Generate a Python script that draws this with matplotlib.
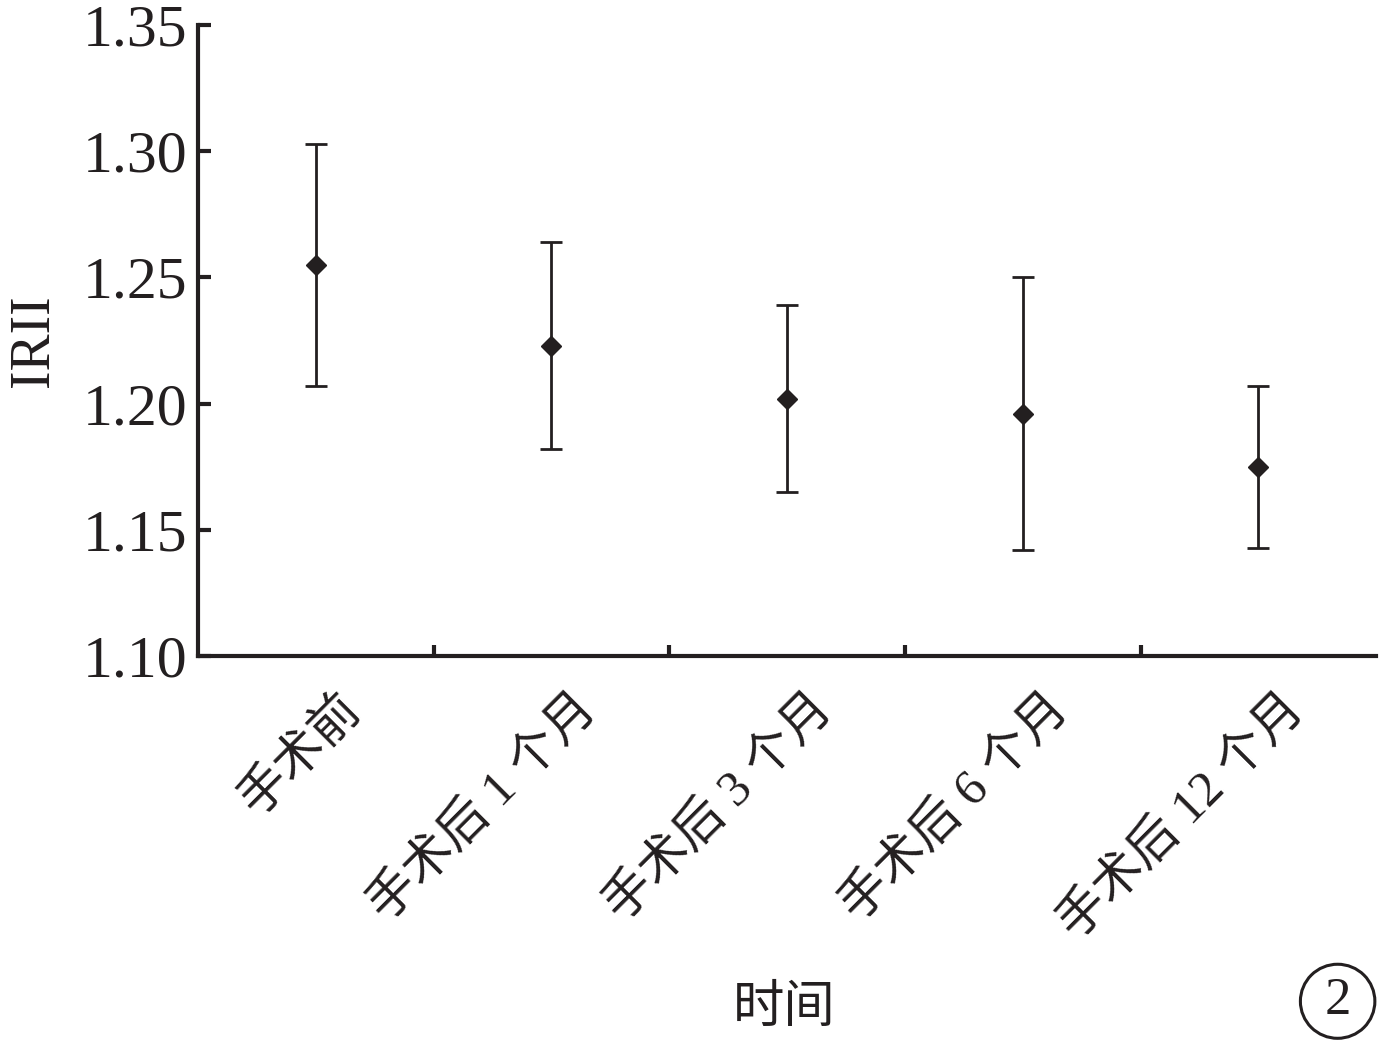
import matplotlib

matplotlib.use("Agg")
import matplotlib.pyplot as plt
import matplotlib.transforms as mtransforms
import numpy as np
from matplotlib.patches import Ellipse

plt.rcParams["font.family"] = ["Liberation Serif", "Noto Sans CJK SC"]

categories = ["手术前", "手术后 1 个月", "手术后 3 个月", "手术后 6 个月", "手术后 12 个月"]
means = [1.255, 1.223, 1.202, 1.196, 1.175]
upper = [1.303, 1.264, 1.239, 1.250, 1.207]
lower = [1.207, 1.182, 1.165, 1.142, 1.143]
yticks = [1.10, 1.15, 1.20, 1.25, 1.30, 1.35]

INK = "#231f20"

fig = plt.figure(figsize=(13.79, 10.43), dpi=100)
ax = fig.add_axes([0.1436, 0.371, 0.8544, 0.605])

x = np.arange(len(categories))
m = np.array(means)
err = [m - np.array(lower), np.array(upper) - m]
ax.errorbar(x, m, yerr=err, fmt="D", color=INK, ms=10, elinewidth=2,
            capsize=8, capthick=2)

ax.set_xlim(-0.5, len(categories) - 0.5)
ax.set_ylim(1.10, 1.35)
ax.set_yticks(yticks)
ax.set_yticklabels([f"{v:.2f}" for v in yticks], fontsize=43, color=INK)
ax.set_xticks(x)
ax.set_xticklabels([])
ax.set_xticks(np.arange(0.5, len(categories) - 1, 1.0), minor=True)

# rotated category labels, anchored just below each category
lab_tr = mtransforms.blended_transform_factory(ax.transData, ax.transAxes) + \
    mtransforms.ScaledTranslation(0.22, -0.30, fig.dpi_scale_trans)
for xi, name in zip(x, categories):
    ax.text(xi, 0, name, transform=lab_tr, fontsize=36, rotation=45,
            ha="right", va="top", rotation_mode="anchor", color=INK)

for s in ("top", "right"):
    ax.spines[s].set_visible(False)
for s in ("left", "bottom"):
    ax.spines[s].set_linewidth(3)
    ax.spines[s].set_color(INK)

ax.tick_params(axis="y", direction="in", length=9, width=3, color=INK, pad=8)
ax.tick_params(axis="x", which="major", length=0)
ax.tick_params(axis="x", which="minor", direction="in", length=8, width=3, color=INK)

ax.set_ylabel("IRII", fontsize=40, color=INK, labelpad=16)
fig.text(0.569, 0.032, "时间", fontsize=37, color=INK, ha="center", va="center")

circ = Ellipse((0.970, 0.040), 0.054, 0.071, transform=fig.transFigure,
               fill=False, lw=2.2, edgecolor=INK)
fig.patches.append(circ)
fig.text(0.970, 0.040, "2", fontsize=38, color=INK, ha="center", va="center")

fig.savefig("out.png", dpi=100)
